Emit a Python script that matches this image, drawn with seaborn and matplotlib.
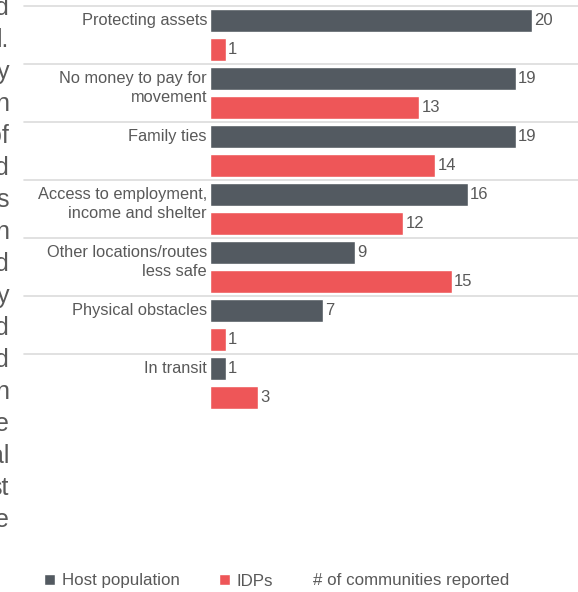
import numpy as np
import pandas as pd
import matplotlib
matplotlib.use('Agg')
import matplotlib.pyplot as plt
import seaborn as sns

# data
reasons = ['Protecting assets', 'No money to pay for\nmovement', 'Family ties',
           'Access to employment,\nincome and shelter', 'Other locations/routes\nless safe',
           'Physical obstacles', 'In transit']
host = [20, 19, 19, 16, 9, 7, 1]
idps = [1, 13, 14, 12, 15, 1, 3]
groups = ['Host population', 'IDPs']
colors = ['#535a61', '#ee5658']

# fragments of the neighbouring text column (cut off at the left edge)
side_text = ['d', 'l.', 'y', 'n', 'of', 'd', 's', 'n', 'd', 'y', 'd', 'd', 'n', 'e', 'al', 'st', 'e']

grey = '#595959'

sns.set_style('white')
plt.rcParams['font.family'] = ['Liberation Sans', 'DejaVu Sans']

df = pd.DataFrame({
    'reason': reasons * 2,
    'count': host + idps,
    'group': [groups[0]] * len(reasons) + [groups[1]] * len(reasons),
})

W, H = 578, 592
fig = plt.figure(figsize=(W / 100, H / 100), dpi=100)
ax = fig.add_axes([210 / W, 1 - 412 / H, 368 / W, 406 / H])

sns.barplot(data=df, y='reason', x='count', hue='group', palette=colors,
            width=1.0, gap=0.2, orient='h', ax=ax, saturation=1)

ax.set_xlim(0, 368 / 16.1)
ax.set_ylim(len(reasons) - 0.5, -0.5)
ax.set_xticks([])
ax.set_yticks([])
ax.set_xlabel('')
ax.set_ylabel('')
sns.despine(ax=ax, left=True, bottom=True)

# value labels
for c in ax.containers:
    ax.bar_label(c, padding=1.5, fontsize=12, color=grey)

# group separators
for b in np.arange(len(reasons)) - 0.5:
    ax.axhline(b, xmin=-186 / 368, xmax=1, color='#dcdcdc', lw=1.2, clip_on=False)

# category labels, top aligned to the first bar of each group
for i, lab in enumerate(reasons):
    ax.text(-3 / 16.1, i - 0.5 + 0.12, lab, ha='right', va='top',
            fontsize=11.8, color=grey, linespacing=1.35)

# legend
sns.move_legend(ax, 'center left', bbox_to_anchor=(44 / W, 1 - 581 / H),
                bbox_transform=fig.transFigure, ncol=2, frameon=False, title=None,
                fontsize=12.2, handlelength=0.62, handleheight=0.62, handletextpad=0.42,
                columnspacing=2.35, borderpad=0, borderaxespad=0, labelcolor=grey)
fig.text(313 / W, 1 - 581 / H, '# of communities reported', ha='left', va='center',
         fontsize=12.2, color=grey)

# cut-off text of the page on the left
for i, frag in enumerate(side_text):
    fig.text(9 / W, 1 - (15 + 32 * i) / H, frag, ha='right', va='baseline',
             fontsize=18, color=grey)

fig.savefig('out.png', dpi=100)
